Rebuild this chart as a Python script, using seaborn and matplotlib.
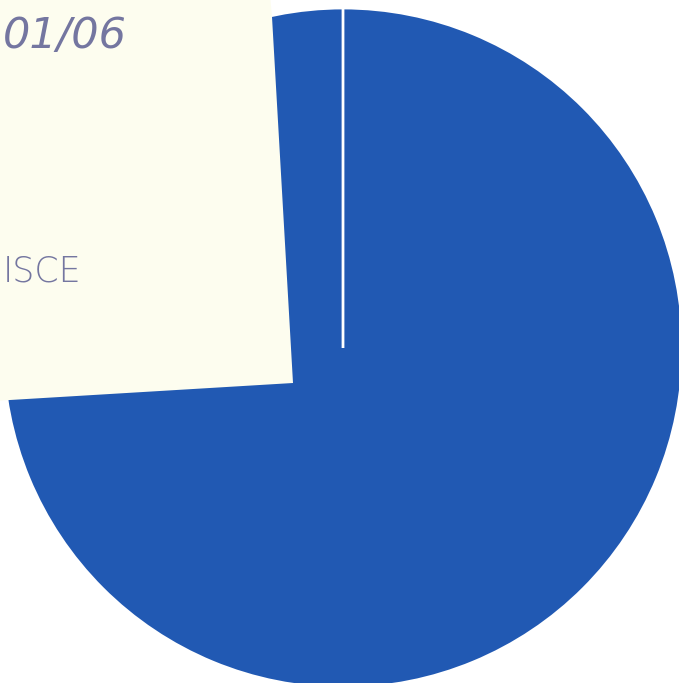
from matplotlib import pyplot as plt
from matplotlib.patches import Polygon
import seaborn as sns

# pie values (one full slice, the zero slice only leaves the white divider)
labels = ["Share", "Other"]
values = [100, 0]
colors = ["#2159b3", "#2159b3"]

# handwritten notes on the paper scrap
note_date = "01/06"
note_word = "ISCE"

sns.set_theme(style="white")

W, H = 679, 683
fig = plt.figure(figsize=(W / 100, H / 100), dpi=100)
ax = fig.add_axes([0, 0, 1, 1])

ax.pie(values, colors=colors, startangle=90, counterclock=False,
       wedgeprops=dict(edgecolor="white", linewidth=2))

# put the unit circle where it sits in the scan
r_px, cx, cy = 340, 343, 348
ax.set_xlim(-cx / r_px, (W - cx) / r_px)
ax.set_ylim((cy - H) / r_px, cy / r_px)
ax.set_aspect("equal")
ax.axis("off")

# paper scrap covering the upper left part
def px(x, y):
    return x / W, 1 - y / H

paper = Polygon([px(-5, -5), px(270, -5), px(272, 17), px(293, 383),
                 px(10, 400), px(-5, 401)],
                closed=True, transform=fig.transFigure,
                facecolor="#fdfdef", edgecolor="none", zorder=5)
fig.patches.append(paper)

fig.text(*px(3, 36), note_date, ha="left", va="center", fontsize=31,
         style="italic", fontweight="light", color="#7476a0", zorder=6)
fig.text(*px(3, 272), note_word, ha="left", va="center", fontsize=25,
         fontweight="light", color="#7476a0", zorder=6)

fig.savefig("out.png", dpi=100, facecolor="white")
